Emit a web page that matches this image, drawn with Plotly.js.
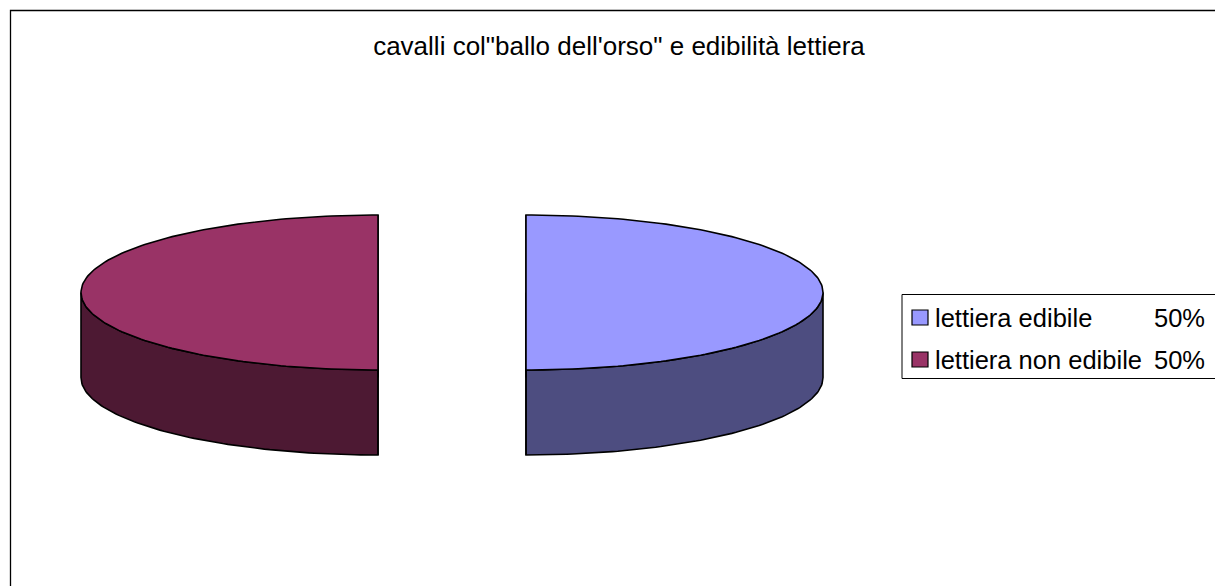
<!DOCTYPE html>
<html>
<head>
<meta charset="utf-8">
<script src="https://cdn.plot.ly/plotly-3.0.1.min.js"></script>
<style>html,body{margin:0;padding:0;background:#fff;}#chart{width:1215px;height:586px;}</style>
</head>
<body>
<div id="chart"></div>
<script>
// ---- data ----
const categories = ["lettiera edibile", "lettiera non edibile"];
const values = [50, 50];
const topColors = ["#9999FF", "#993366"];
const sideColors = ["#4D4D80", "#4D1933"];
const chartTitle = "cavalli col\"ballo dell'orso\" e edibilità lettiera";

// ---- geometry (pixel space) ----
const W = 1215, H = 586;
const cx = 452, cy = 292.5, rx = 297, ry = 77.5, depth = 85, explode = 74;
const total = values.reduce((a, b) => a + b, 0);
const deg = Math.PI / 180;

function pt(ox, oy, t, dz) { return [ox + rx * Math.cos(t), oy + ry * Math.sin(t) + (dz || 0)]; }

const traces = [];
const sides = [], tops = [];
let start = -90 * deg;
values.forEach((v, i) => {
  const span = v / total * 2 * Math.PI;
  const a1 = start, a2 = start + span;
  const mid = (a1 + a2) / 2;
  const ox = cx + explode * Math.cos(mid), oy = cy + explode * (ry / rx) * Math.sin(mid);
  const N = 160;
  // side wall (visible front part: angles with sin >= 0)
  const sx = [], sy = [];
  const front = [];
  for (let k = 0; k <= N; k++) {
    const t = a1 + span * k / N;
    if (Math.sin(t) >= -1e-9) front.push(t);
  }
  if (front.length > 1) {
    front.forEach(t => { const p = pt(ox, oy, t, 0); sx.push(p[0]); sy.push(p[1]); });
    for (let k = front.length - 1; k >= 0; k--) { const p = pt(ox, oy, front[k], depth); sx.push(p[0]); sy.push(p[1]); }
    sx.push(sx[0]); sy.push(sy[0]);
    sides.push({ x: sx, y: sy, type: "scatter", mode: "lines", fill: "toself",
      fillcolor: sideColors[i], line: { color: "#000", width: 1.6 }, hoverinfo: "skip", showlegend: false });
  }
  // cut faces (edges from centre)
  [a1, a2].forEach(t => {
    const p = pt(ox, oy, t, 0);
    const fx = [ox, p[0], p[0], ox, ox], fy = [oy, p[1], p[1] + depth, oy + depth, oy];
    sides.push({ x: fx, y: fy, type: "scatter", mode: "lines", fill: "toself",
      fillcolor: sideColors[i], line: { color: "#000", width: 1.6 }, hoverinfo: "skip", showlegend: false });
  });
  // top face
  const tx = [ox], ty = [oy];
  for (let k = 0; k <= N; k++) { const p = pt(ox, oy, a1 + span * k / N, 0); tx.push(p[0]); ty.push(p[1]); }
  tx.push(ox); ty.push(oy);
  tops.push({ x: tx, y: ty, type: "scatter", mode: "lines", fill: "toself",
    fillcolor: topColors[i], line: { color: "#000", width: 1.6 }, hoverinfo: "skip", showlegend: false, name: categories[i] });
  start = a2;
});
traces.push(...sides, ...tops);

// ---- legend (manual) ----
const FONT = "Liberation Sans, Arial";
const shapes = [
  { type: "rect", xref: "paper", yref: "paper", x0: 10.5 / W, x1: 1.01, y0: -0.01, y1: 1 - 10.5 / H,
    line: { color: "#000", width: 1.3 }, fillcolor: "rgba(0,0,0,0)", layer: "below" },
  { type: "rect", xref: "x", yref: "y", x0: 902, x1: 1230, y0: 294.5, y1: 378.5,
    line: { color: "#000", width: 1 }, fillcolor: "#fff", layer: "below" }
];
const annotations = [];
categories.forEach((c, i) => {
  const yc = 317.5 + i * 42;
  shapes.push({ type: "rect", xref: "x", yref: "y", x0: 912, x1: 928, y0: yc - 7.5, y1: yc + 7.5,
    line: { color: "#000", width: 1.2 }, fillcolor: topColors[i] });
  annotations.push({ xref: "x", yref: "y", x: 933, y: yc, xanchor: "left", yanchor: "middle",
    text: c, showarrow: false, font: { family: FONT, size: 25.5, color: "#000" } });
  annotations.push({ xref: "x", yref: "y", x: 1207, y: yc, xanchor: "right", yanchor: "middle",
    text: Math.round(values[i] / total * 100) + "%", showarrow: false,
    font: { family: FONT, size: 25.5, color: "#000" } });
});

const layout = {
  width: W, height: H,
  margin: { l: 0, r: 0, t: 0, b: 0 },
  paper_bgcolor: "#fff", plot_bgcolor: "#fff",
  title: { text: chartTitle, x: 619 / W, xanchor: "center", y: 1 - 46 / H, yanchor: "middle",
    font: { family: FONT, size: 26, color: "#000" } },
  xaxis: { range: [0, W], visible: false, fixedrange: true },
  yaxis: { range: [H, 0], visible: false, fixedrange: true },
  showlegend: false,
  shapes: shapes, annotations: annotations
};
Plotly.newPlot("chart", traces, layout, { staticPlot: true, displayModeBar: false });
</script>
</body>
</html>
